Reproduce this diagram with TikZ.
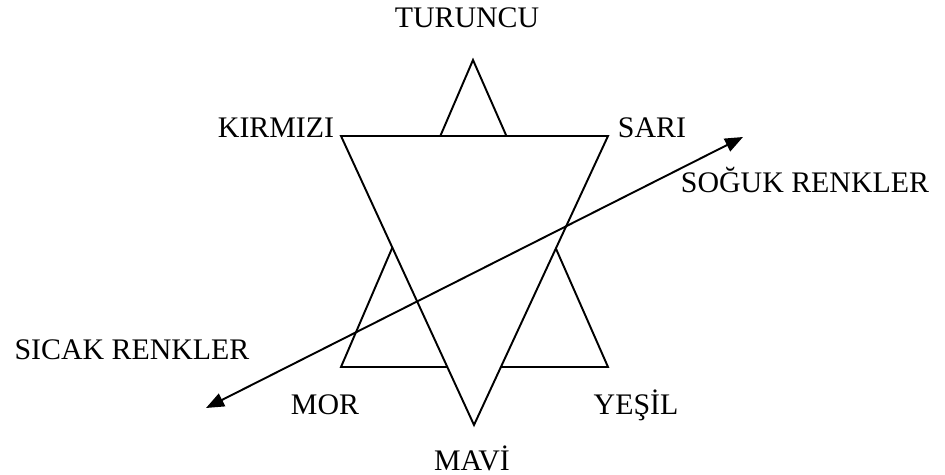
\documentclass[tikz,border=0pt]{standalone}
\usepackage{fontspec}
\setmainfont{Liberation Serif}
\usetikzlibrary{arrows.meta}
\begin{document}
\begin{tikzpicture}[x=0.02cm, y=-0.02cm, line width=1.1pt, every node/.style={font=\fontsize{17}{20}\selectfont, anchor=base, inner sep=0pt}]
	\useasboundingbox (0,0) rectangle (945,475);
	
	% 1. yıldızın köşeleri
	\coordinate (ust) at (473,60);
	\coordinate (solalt) at (341,367);
	\coordinate (sagalt) at (608,367);
	\coordinate (solust) at (341,136);
	\coordinate (sagust) at (608,136);
	\coordinate (alt) at (474,425);
	
	% 2. iki üçgen (ters üçgen beyaz dolgulu, üstte)
	\draw (ust) -- (solalt) -- (sagalt) -- cycle;
	\filldraw[fill=white] (solust) -- (sagust) -- (alt) -- cycle;
	
	% 3. sıcak -- soğuk oku
	\coordinate (sicakuc) at (206,408);
	\coordinate (sogukuc) at (743,137);
	\draw[{Triangle[length=0.36cm, width=0.28cm]}-{Triangle[length=0.36cm, width=0.28cm]}] (sicakuc) -- (sogukuc);
	
	% 4. renk adları
	\node (turuncu) at (467,28) {TURUNCU};
	\node (kirmizi) at (276,138) {KIRMIZI};
	\node (sari) at (652,138) {SARI};
	\node (soguk) at (805,193) {SOĞUK RENKLER};
	\node (sicak) at (132,360) {SICAK RENKLER};
	\node (mor) at (325,415) {MOR};
	\node (yesil) at (636,415) {YEŞİL};
	\node (mavi) at (472,470) {MAVİ};
\end{tikzpicture}
\end{document}
